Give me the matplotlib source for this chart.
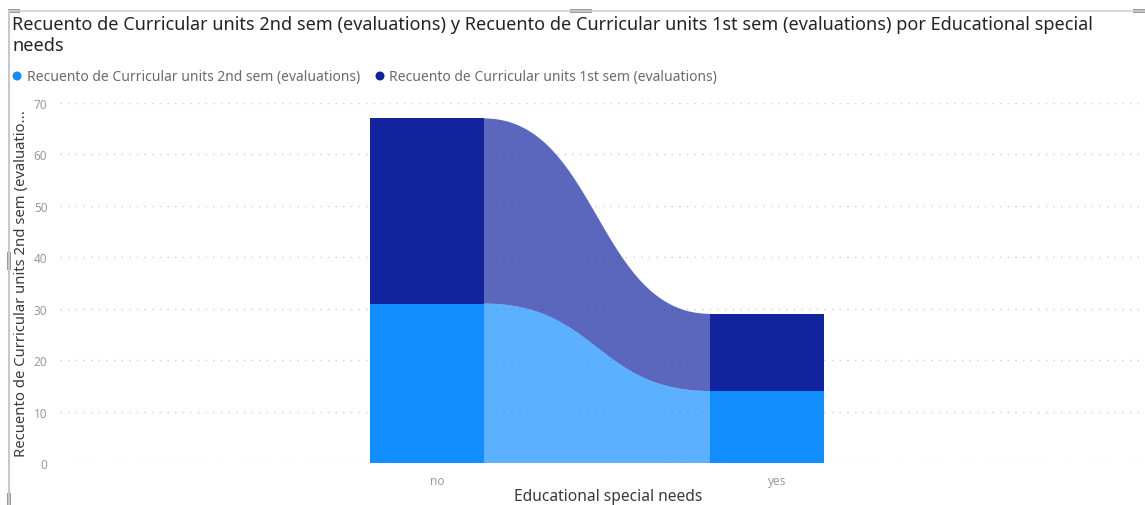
import numpy as np
import matplotlib
matplotlib.use("Agg")
import matplotlib.pyplot as plt
from matplotlib.patches import Polygon, Rectangle, Ellipse
from matplotlib.transforms import ScaledTranslation

plt.rcParams["font.family"] = ["Noto Sans", "DejaVu Sans"]

# Data
categories = ["no", "yes"]
series_names = [
    "Recuento de Curricular units 2nd sem (evaluations)",
    "Recuento de Curricular units 1st sem (evaluations)",
]
sem2_counts = [31, 14]
sem1_counts = [36, 15]

title = ("Recuento de Curricular units 2nd sem (evaluations) y Recuento de "
         "Curricular units 1st sem (evaluations) por Educational special\nneeds")
x_title = "Educational special needs"
y_title = "Recuento de Curricular units 2nd sem (evaluatio..."
y_ticks = [0, 10, 20, 30, 40, 50, 60, 70]

colors = ["#118DFF", "#12239E"]
ribbon_alpha = 0.69

W, H = 1145, 506
fig = plt.figure(figsize=(W / 100, H / 100), dpi=100)
fig.patch.set_facecolor("white")

# Axes placement in pixels
ax_left, ax_right = 60, 1145
ax_top, ax_bottom = 104, 464
ax = fig.add_axes([ax_left / W, (H - ax_bottom) / H,
                   (ax_right - ax_left) / W, (ax_bottom - ax_top) / H])

cat_x = np.arange(len(categories))
spacing_px = 340.0
first_px = 427.0
ax.set_xlim((ax_left - first_px) / spacing_px, (ax_right - first_px) / spacing_px)
ax.set_ylim(0, 70)

bar_w = 0.335

# Stack bottoms/tops per category
stack = np.vstack([sem2_counts, sem1_counts]).astype(float)
bottoms = np.vstack([np.zeros(len(categories)), np.cumsum(stack, axis=0)[:-1]])
tops = bottoms + stack


def bezier_edge(x0, y0, x1, y1, n=120):
    t = np.linspace(0, 1, n)
    xm = (x0 + x1) / 2
    bx = (1 - t) ** 3 * x0 + 3 * (1 - t) ** 2 * t * xm + 3 * (1 - t) * t ** 2 * xm + t ** 3 * x1
    by = ((1 - t) ** 3 + 3 * (1 - t) ** 2 * t) * y0 + (3 * (1 - t) * t ** 2 + t ** 3) * y1
    return bx, by


# Ribbons between consecutive categories
for s in range(stack.shape[0]):
    for i in range(len(categories) - 1):
        xa = cat_x[i] + bar_w / 2
        xb = cat_x[i + 1] - bar_w / 2
        tx, ty = bezier_edge(xa, tops[s, i], xb, tops[s, i + 1])
        bx, by = bezier_edge(xa, bottoms[s, i], xb, bottoms[s, i + 1])
        pts = np.column_stack([np.concatenate([tx, bx[::-1]]),
                               np.concatenate([ty, by[::-1]])])
        ax.add_patch(Polygon(pts, closed=True, facecolor=colors[s],
                             edgecolor="none", alpha=ribbon_alpha, zorder=2))

# Stacked bars
for s in range(stack.shape[0]):
    ax.bar(cat_x, stack[s], bottom=bottoms[s], width=bar_w,
           color=colors[s], edgecolor="none", zorder=3)

# Gridlines
for yv in y_ticks:
    ax.axhline(yv, color="#D0D0D0", lw=1.0, ls=(0, (1, 4.5)), zorder=1)

for sp in ax.spines.values():
    sp.set_visible(False)
ax.set_yticks(y_ticks)
ax.set_yticklabels([str(v) for v in y_ticks], fontsize=8.5, color="#9A9A9A")
ax.tick_params(axis="y", length=0, pad=9)
ax.set_xticks(cat_x)
ax.set_xticklabels(categories, fontsize=8.5, color="#9A9A9A")
ax.tick_params(axis="x", length=0, pad=8)
for lbl in ax.get_xticklabels():
    lbl.set_transform(lbl.get_transform() + ScaledTranslation(0.10, 0, fig.dpi_scale_trans))

# Texts
fig.text(12 / W, 1 - 16 / H, title, fontsize=13.0, color="#252423",
         ha="left", va="top", linespacing=1.22)
fig.text(608 / W, 1 - 497 / H, x_title, fontsize=11.2, color="#3A3A3A",
         ha="center", va="center")
fig.text(22 / W, 1 - 284 / H, y_title, fontsize=10.7, color="#3A3A3A",
         ha="center", va="center", rotation=90)

# Legend
leg_y = 1 - 77 / H
legend_items = [(17, 27), (380, 389)]
for (cx, tx), name, col in zip(legend_items, series_names, colors):
    fig.patches.append(Ellipse(
        (cx / W, leg_y), 9 / W, 9 / H, transform=fig.transFigure,
        facecolor=col, edgecolor="none"))
    fig.text(tx / W, leg_y, name, fontsize=10.0, color="#6B6B6B",
             ha="left", va="center")

# Visual container border and handles
fig.add_artist(plt.Line2D([9 / W, 9 / W], [0, 1 - 12 / H],
                          transform=fig.transFigure, color="#C8C8C8", lw=1.5))
fig.add_artist(plt.Line2D([9 / W, 1], [1 - 12 / H, 1 - 12 / H],
                          transform=fig.transFigure, color="#D0D0D0", lw=1.2))
for (hx, hy, hw, hh) in [(8, 10, 12, 4), (570, 10, 22, 4), (1133, 10, 12, 4),
                         (7, 253, 4, 18), (7, 494, 4, 12)]:
    fig.patches.append(Rectangle((hx / W, 1 - (hy + hh) / H), hw / W, hh / H,
                                 transform=fig.transFigure,
                                 facecolor="#9A9A9A", edgecolor="none"))

fig.savefig("out.png", dpi=100, facecolor="white")
